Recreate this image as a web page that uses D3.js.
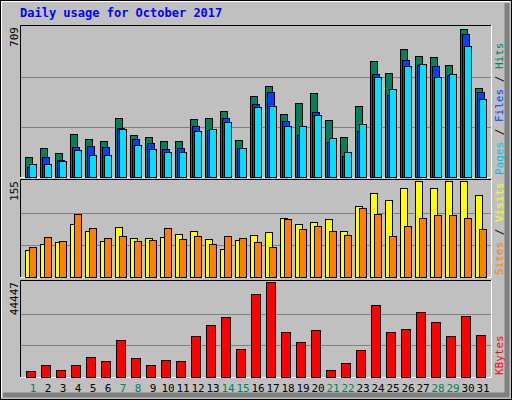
<!DOCTYPE html>
<html><head><meta charset="utf-8">
<script src="https://cdn.jsdelivr.net/npm/d3@7"></script>
<style>body{margin:0;background:#fff}</style>
</head><body><div id="chart"></div>
<script>
// Daily usage values
const days = d3.range(1, 32);
const weekends = [1, 7, 8, 14, 15, 21, 22, 28, 29];
const hits = [95,137,113,203,180,170,279,199,189,170,170,274,279,312,175,383,430,298,350,397,269,189,336,548,492,605,572,567,529,700,421];
const files = [47,95,80,142,147,142,232,180,161,132,137,241,222,279,137,345,402,265,199,307,165,99,217,487,388,553,529,525,482,676,402];
const pages = [61,61,76,128,104,104,227,151,132,118,118,217,227,260,137,331,336,241,241,293,184,118,251,473,416,525,534,473,487,619,369];
const visits = [44,53,56,86,74,58,81,63,63,64,69,74,61,46,59,68,73,96,85,88,93,74,115,135,125,143,155,143,155,155,132];
const sites = [49,64,58,101,79,63,66,58,59,79,61,66,54,66,63,56,49,93,78,83,74,68,111,101,66,83,95,100,100,96,78];
const kbytes = [2595,5515,3082,5515,9408,7461,17193,8921,5515,7948,7461,19140,24492,27898,13300,38604,44447,21086,16220,22059,3082,6488,12814,33738,21086,22546,30331,25952,19140,28385,19626];

const W = 512, H = 400;
const font = "'DejaVu Sans Mono', monospace";
const svg = d3.select('#chart').append('svg').attr('width', W).attr('height', H);

// 3D frame
svg.append('rect').attr('width', W).attr('height', H).attr('fill', '#c0c0c0');
svg.append('rect').attr('x', 0.5).attr('y', 0.5).attr('width', W - 1).attr('height', H - 1).attr('fill', 'none').attr('stroke', '#000');
svg.append('path').attr('d', `M1.5,${H-2}V1.5H${W-2}`).attr('fill', 'none').attr('stroke', '#fff');
svg.append('path').attr('d', `M${W-5},3V${H-5}H3`).attr('fill', 'none').attr('stroke', '#808080').attr('stroke-width', 5);

svg.append('text').attr('x', 20).attr('y', 17).attr('font-family', font).attr('font-weight', 'bold')
  .attr('font-size', 12).attr('fill', '#0000ff').text('Daily usage for October 2017');

const x = d3.scaleBand().domain(days).range([25, 25 + 31 * 15]);

function panel(y0, y1, max, label, legend) {
  svg.append('path').attr('d', `M20.5,${y1}V${y0}.5H491`).attr('fill', 'none').attr('stroke', '#000');
  svg.append('path').attr('d', `M20,${y1}.5H491.5V${y0}`).attr('fill', 'none').attr('stroke', '#fff');
  const h = y1 - y0;
  [1, 2].forEach(k => {
    const gy = Math.round(y1 - k * (h - 2) / 3) + 0.5;
    svg.append('line').attr('x1', 21).attr('x2', 491).attr('y1', gy).attr('y2', gy).attr('stroke', '#808080');
  });
  svg.append('text').attr('transform', `translate(18,${y0 + 2}) rotate(-90)`).attr('text-anchor', 'end')
    .attr('font-family', font).attr('font-size', 11).attr('fill', '#000').text(label);
  const t = svg.append('text').attr('transform', `translate(503,${y1 - 2}) rotate(-90)`)
    .attr('font-family', font).attr('font-size', 11);
  legend.forEach(([s, c], i) => {
    if (i) t.append('tspan').attr('fill', '#000').text(' / ');
    t.append('tspan').attr('fill', c).text(s);
  });
  return d3.scaleLinear().domain([0, max]).range([y1, y0 + 2]);
}

function bars(data, y, dx, w, color) {
  svg.append('g').selectAll('rect').data(data).join('rect')
    .attr('x', (d, i) => x(days[i]) + dx + 0.5).attr('y', d => Math.round(y(d)) + 0.5)
    .attr('width', w).attr('height', d => Math.round(y(0) - y(d)))
    .attr('fill', color).attr('stroke', '#000');
}

const y1 = panel(25, 177, 709, '709', [['Pages', '#00c0e0'], ['Files', '#0040ff'], ['Hits', '#00805c']]);
bars(hits, y1, 0, 7, '#00805c');
bars(files, y1, 2, 7, '#0040ff');
bars(pages, y1, 4, 7, '#00e0ff');

const y2 = panel(179, 277, 155, '155', [['Sites', '#ff8000'], ['Visits', '#ffff00']]);
bars(visits, y2, 0, 7, '#ffff00');
bars(sites, y2, 4, 7, '#ff8000');

const y3 = panel(280, 377, 44447, '44447', [['KBytes', '#ff0000']]);
bars(kbytes, y3, 1, 9, '#ff0000');

svg.append('g').selectAll('text').data(days).join('text')
  .attr('x', d => x(d) + 8).attr('y', 392).attr('text-anchor', 'middle')
  .attr('font-family', font).attr('font-size', 11)
  .attr('fill', d => weekends.includes(d) ? '#00805c' : '#000').text(d => d);
</script></body></html>
